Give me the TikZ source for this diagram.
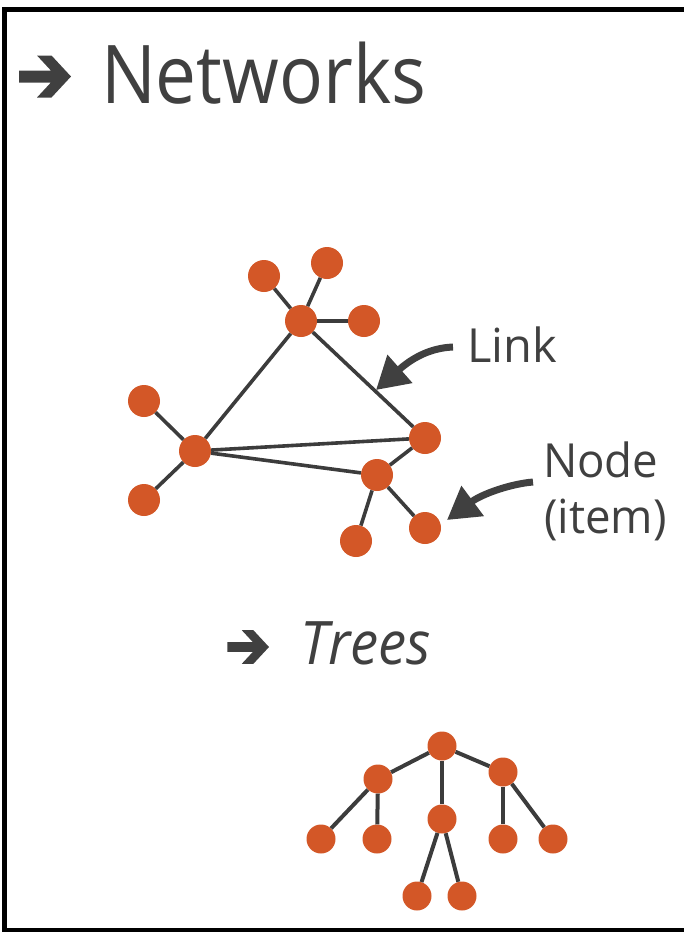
\documentclass[tikz,border=0pt]{standalone}
\usepackage{fontspec}
\setmainfont{Open Sans}
\usetikzlibrary{arrows.meta}
\definecolor{nodeorange}{RGB}{211,87,39}
\definecolor{txtgray}{RGB}{64,64,64}
\definecolor{edgegray}{RGB}{60,60,60}
\tikzset{
  netnode/.style={circle,fill=nodeorange,draw=none,inner sep=0pt,minimum size=32pt},
  treenode/.style={circle,fill=nodeorange,draw=none,inner sep=0pt,minimum size=29pt},
  edge/.style={draw=edgegray,line width=3.6pt},
  tedge/.style={draw=edgegray,line width=4pt},
  lbl/.style={inner sep=0pt,outer sep=0pt,text=txtgray,anchor=base west},
  callout/.style={draw=txtgray,line width=7pt,-{Triangle[length=32pt,width=36pt]}},
  hdarrow/.style={fill=txtgray,draw=none}
}
\begin{document}
\begin{tikzpicture}[x=1pt,y=-1pt]
\useasboundingbox (0,0) rectangle (684,932);
% frame
\draw[black,line width=5pt] (684,9.5) -- (4,9.5) -- (4,930.5) -- (684,930.5);
% header arrows
\fill[hdarrow,shift={(71,76.5)}] (-52,-6) -- (-20.1,-6) -- (-34,-21) -- (-19.5,-21) -- (0,0) -- (-19.5,21) -- (-34,21) -- (-20.1,6) -- (-52,6) -- cycle;
\fill[hdarrow,shift={(269,647)},scale=0.8] (-52,-6) -- (-20.1,-6) -- (-34,-21) -- (-19.5,-21) -- (0,0) -- (-19.5,21) -- (-34,21) -- (-20.1,6) -- (-52,6) -- cycle;
% titles
\node[lbl,font=\fontsize{81}{90}\selectfont] (title) at (101,103) {\scalebox{0.9}[1]{Networks}};
\node[lbl,font=\fontsize{60}{70}\selectfont\itshape] (trees) at (300,664) {\scalebox{0.94}[1]{Trees}};
% network nodes
\node[netnode] (h1) at (301,321) {};
\node[netnode] (t1) at (264,276) {};
\node[netnode] (t2) at (327,263) {};
\node[netnode] (t3) at (364,321) {};
\node[netnode] (h2) at (195,451) {};
\node[netnode] (l1) at (144,401) {};
\node[netnode] (l2) at (144,500) {};
\node[netnode] (r) at (425,438) {};
\node[netnode] (h3) at (377,475) {};
\node[netnode] (b1) at (356,541) {};
\node[netnode] (b2) at (425,528) {};
\foreach \a/\b in {h1/t1,h1/t2,h1/t3,h1/h2,h1/r,h2/l1,h2/l2,h2/r,h2/h3,h3/r,h3/b1,h3/b2}
  \draw[edge] (\a) -- (\b);
% labels and callouts
\node[lbl,font=\fontsize{47}{56}\selectfont] (link) at (467,362) {Link};
\node[lbl,font=\fontsize{47}{56}\selectfont] (nodelbl) at (543,477) {\scalebox{0.97}[1]{Node}};
\node[lbl,font=\fontsize{47}{56}\selectfont] (item) at (544,533) {\scalebox{0.97}[1]{(item)}};
\coordinate (linktail) at (453,347);
\coordinate (linktip) at (376,390);
\coordinate (nodetail) at (533,482);
\coordinate (nodetip) at (447,520);
\draw[callout] (linktail) .. controls (428,348) and (410,360) .. (linktip);
\draw[callout] (nodetail) .. controls (510,484) and (482,494) .. (nodetip);
% tree
\node[treenode] (root) at (442,746) {};
\node[treenode] (tl) at (378,779) {};
\node[treenode] (tm) at (442,819) {};
\node[treenode] (tr) at (503,772) {};
\node[treenode] (tll) at (321,839) {};
\node[treenode] (tlr) at (377,839) {};
\node[treenode] (tml) at (417,896) {};
\node[treenode] (tmr) at (462,896) {};
\node[treenode] (trl) at (503,839) {};
\node[treenode] (trr) at (553,839) {};
\foreach \a/\b in {root/tl,root/tm,root/tr,tl/tll,tl/tlr,tm/tml,tm/tmr,tr/trl,tr/trr}
  \draw[tedge] (\a) -- (\b);
\end{tikzpicture}
\end{document}
